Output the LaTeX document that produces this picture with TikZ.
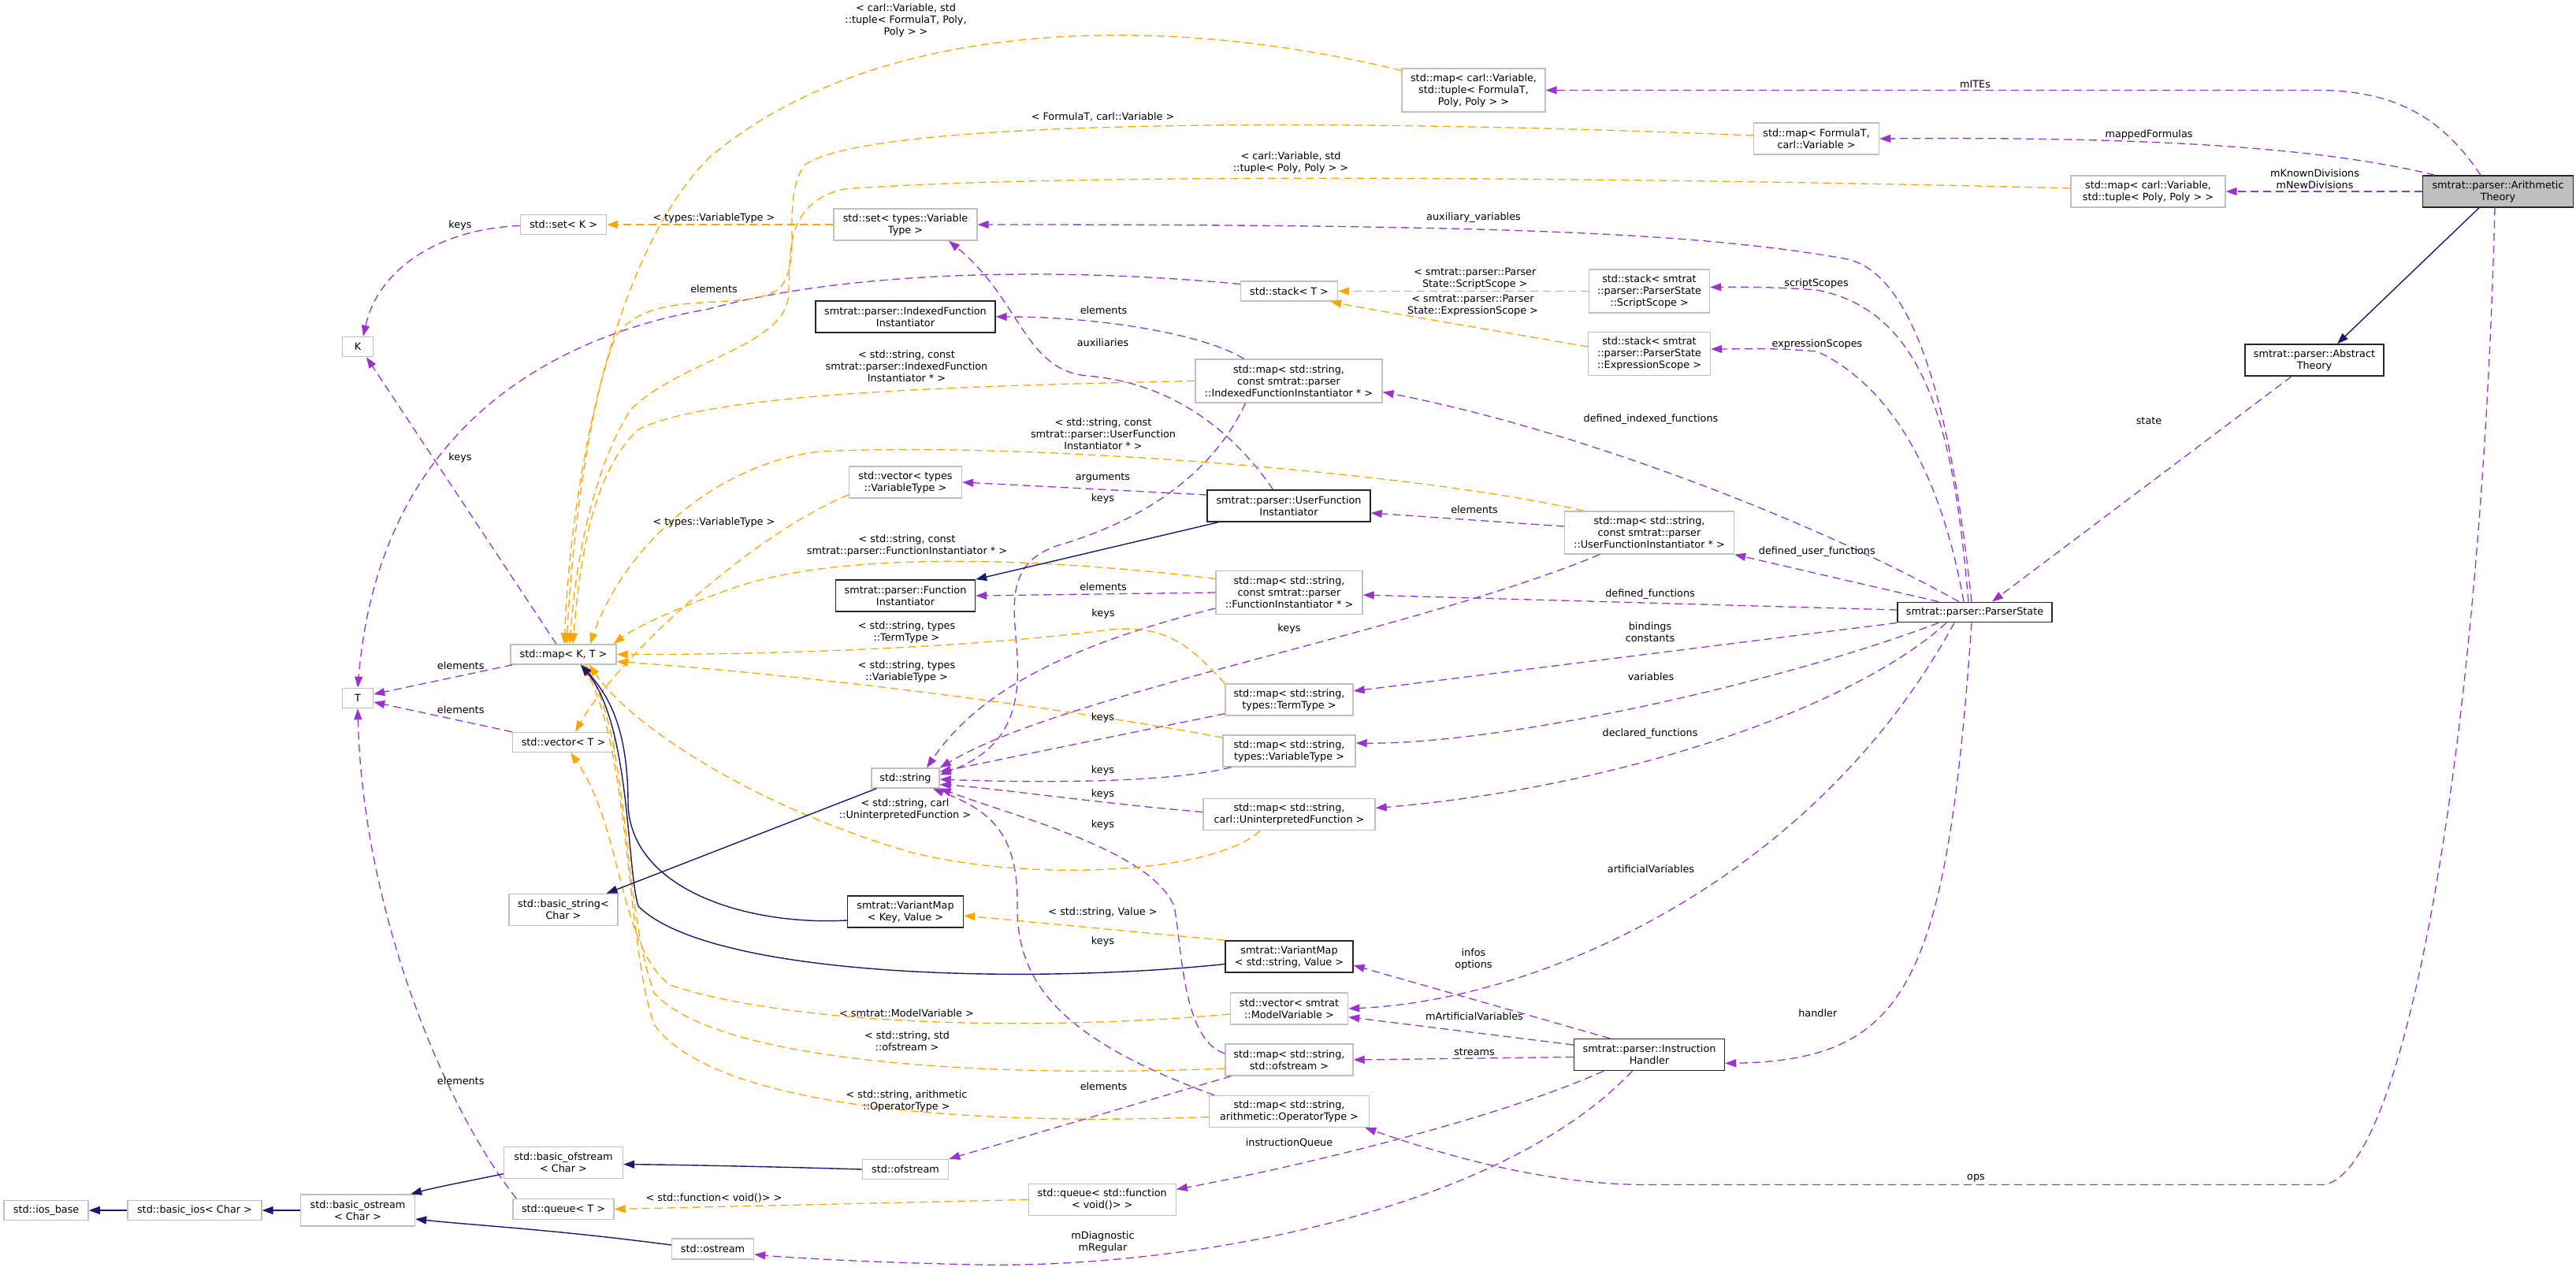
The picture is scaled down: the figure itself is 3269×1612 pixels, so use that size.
\documentclass[tikz,border=0pt]{standalone}
\usepackage{fontspec}
\setmainfont{DejaVu Sans}
\usetikzlibrary{arrows.meta}
\definecolor{dorchid}{HTML}{9A32CD}
\definecolor{orangeC}{HTML}{FFA500}
\definecolor{navyC}{HTML}{191970}
\definecolor{grayB}{HTML}{BFBFBF}
\newcommand\dxfont{\fontsize{12.8}{15}\selectfont}
\tikzset{
  basebox/.style={draw, line width=1.4pt, fill=white, align=center, inner sep=0pt, font=\dxfont},
  gbox/.style={basebox, draw=grayB},
  bbox/.style={basebox, draw=black!85},
  use/.style={draw=dorchid, line width=1.3pt, dash pattern=on 10pt off 6pt, -{Triangle[length=14pt,width=10pt]}},
  tmpl/.style={draw=orangeC, line width=1.3pt, dash pattern=on 10pt off 6pt, -{Triangle[length=14pt,width=10pt]}},
  inh/.style={draw=navyC, line width=1.4pt, -{Triangle[length=14pt,width=10pt]}},
  lbl/.style={font=\dxfont, align=center, inner sep=0pt}
}
\begin{document}
\begin{tikzpicture}[x=1pt,y=-1pt]
\useasboundingbox (0,0) rectangle (3269,1612);
% ---------------- nodes ----------------
\node[bbox, fill=grayB, minimum width=191pt, minimum height=40pt] (arith) at (3170,243) {smtrat::parser::Arithmetic\\Theory};
\node[gbox, minimum width=182pt, minimum height=55pt] (mapCVtF) at (1870,114.5) {std::map< carl::Variable,\\ std::tuple< FormulaT,\\ Poly, Poly > >};
\node[gbox, minimum width=159pt, minimum height=40pt] (mapFC) at (2305,176) {std::map< FormulaT,\\ carl::Variable >};
\node[gbox, minimum width=196pt, minimum height=40pt] (mapCVtP) at (2726,243) {std::map< carl::Variable,\\ std::tuple< Poly, Poly > >};
\node[bbox, minimum width=176pt, minimum height=40pt] (abstract) at (2937,457) {smtrat::parser::Abstract\\Theory};
\node[bbox, minimum width=196pt, minimum height=25.5pt] (parser) at (2506,777) {smtrat::parser::ParserState};
\node[gbox, minimum width=182pt, minimum height=40pt] (setVT) at (1149,285) {std::set< types::Variable\\Type >};
\node[gbox, minimum width=109pt, minimum height=25pt] (setK) at (715,285) {std::set< K >};
\node[gbox, minimum width=39pt, minimum height=25pt] (K) at (454,440) {K};
\node[gbox, minimum width=123pt, minimum height=25pt] (stackT) at (1636,369.5) {std::stack< T >};
\node[gbox, minimum width=153pt, minimum height=55pt] (stackSS) at (2093,369.5) {std::stack< smtrat\\::parser::ParserState\\::ScriptScope >};
\node[gbox, minimum width=155pt, minimum height=55pt] (stackES) at (2093,449) {std::stack< smtrat\\::parser::ParserState\\::ExpressionScope >};
\node[bbox, minimum width=228pt, minimum height=40pt] (idxInst) at (1149,402) {smtrat::parser::IndexedFunction\\Instantiator};
\node[gbox, minimum width=237pt, minimum height=55pt] (mapIdx) at (1635.5,483.5) {std::map< std::string,\\ const smtrat::parser\\::IndexedFunctionInstantiator * >};
\node[gbox, minimum width=143pt, minimum height=40pt] (vecVT) at (1149,612) {std::vector< types\\::VariableType >};
\node[bbox, minimum width=207pt, minimum height=40pt] (userInst) at (1635.5,642) {smtrat::parser::UserFunction\\Instantiator};
\node[gbox, minimum width=215pt, minimum height=54pt] (mapUser) at (2093,676) {std::map< std::string,\\ const smtrat::parser\\::UserFunctionInstantiator * >};
\node[bbox, minimum width=177pt, minimum height=40pt] (funcInst) at (1149,756) {smtrat::parser::Function\\Instantiator};
\node[gbox, minimum width=186pt, minimum height=55pt] (mapFunc) at (1636,752) {std::map< std::string,\\ const smtrat::parser\\::FunctionInstantiator * >};
\node[gbox, minimum width=134pt, minimum height=25pt] (mapKT) at (715,830.5) {std::map< K, T >};
\node[gbox, minimum width=39pt, minimum height=25pt] (T) at (454,886) {T};
\node[gbox, minimum width=162pt, minimum height=40pt] (mapTerm) at (1636,888) {std::map< std::string,\\ types::TermType >};
\node[gbox, minimum width=129pt, minimum height=25pt] (vecT) at (715,942) {std::vector< T >};
\node[gbox, minimum width=168pt, minimum height=40pt] (mapVar) at (1636,953) {std::map< std::string,\\ types::VariableType >};
\node[gbox, minimum width=86pt, minimum height=25pt] (str) at (1149,987.5) {std::string};
\node[gbox, minimum width=218pt, minimum height=40pt] (mapUnint) at (1636,1033.5) {std::map< std::string,\\ carl::UninterpretedFunction >};
\node[gbox, minimum width=138pt, minimum height=40pt] (basicStr) at (715,1154.5) {std::basic\_string<\\ Char >};
\node[bbox, minimum width=147pt, minimum height=40pt] (vmKV) at (1149,1157) {smtrat::VariantMap\\< Key, Value >};
\node[bbox, minimum width=162pt, minimum height=40pt] (vmSV) at (1636,1214) {smtrat::VariantMap\\< std::string, Value >};
\node[gbox, minimum width=149pt, minimum height=40pt] (vecMV) at (1636,1280) {std::vector< smtrat\\::ModelVariable >};
\node[gbox, minimum width=162pt, minimum height=40pt] (mapOfs) at (1636,1345) {std::map< std::string,\\ std::ofstream >};
\node[bbox, minimum width=191pt, minimum height=40pt] (handler) at (2093,1338.5) {smtrat::parser::Instruction\\Handler};
\node[gbox, minimum width=203pt, minimum height=40pt] (mapOp) at (1636,1410.5) {std::map< std::string,\\ arithmetic::OperatorType >};
\node[gbox, minimum width=109pt, minimum height=25pt] (ofstream) at (1149,1484) {std::ofstream};
\node[gbox, minimum width=151pt, minimum height=40pt] (basicOfs) at (715,1475.6) {std::basic\_ofstream\\< Char >};
\node[gbox, minimum width=187pt, minimum height=40pt] (queueF) at (1398.7,1522.4) {std::queue< std::function\\< void()> >};
\node[gbox, minimum width=128pt, minimum height=25.5pt] (queueT) at (715,1534.5) {std::queue< T >};
\node[gbox, minimum width=145pt, minimum height=40pt] (basicOs) at (454,1536) {std::basic\_ostream\\< Char >};
\node[gbox, minimum width=170pt, minimum height=25.5pt] (basicIos) at (247,1536) {std::basic\_ios< Char >};
\node[gbox, minimum width=107pt, minimum height=25.5pt] (iosBase) at (58.6,1536) {std::ios\_base};
\node[gbox, minimum width=104pt, minimum height=25.7pt] (ostream) at (904.5,1585) {std::ostream};
% ---------------- usage edges (purple) ----------------
\draw[use] ([xshift=-22pt]arith.north) .. controls (3100,150) and (3040,114.5) .. (2940,114.5) -- (mapCVtF.east);
\draw[use] ([xshift=16pt]arith.north west) .. controls (2920,180) and (2650,174) .. (mapFC.east);
\draw[use] (arith.west) -- (mapCVtP.east);
\draw[use] ([xshift=-4pt]arith.south) .. controls (3150,900) and (3060,1480) .. (2950,1503.5) -- (2090,1503.5) .. controls (1960,1503.5) and (1830,1465) .. ([xshift=-6pt]mapOp.south east);
\draw[use] ([xshift=-29pt]abstract.south) -- ([xshift=22pt]parser.north);
\draw[use] ([xshift=-4pt]parser.north) .. controls (2480,560) and (2440,345) .. (2340,328) .. controls (2150,295) and (1900,285) .. (setVT.east);
\draw[use] ([xshift=-8pt]parser.north) .. controls (2480,560) and (2450,395) .. (2305,368) .. controls (2250,364) and (2210,364) .. ([yshift=5pt]stackSS.east);
\draw[use] ([xshift=-14pt]parser.north) .. controls (2470,640) and (2420,500) .. (2306,446) .. controls (2250,441) and (2210,443) .. ([yshift=6pt]stackES.east);
\draw[use] ([xshift=-20pt]parser.north) .. controls (2300,660) and (2000,545) .. ([yshift=-14pt]mapIdx.east);
\draw[use] ([xshift=-46pt]parser.north) -- (mapUser.south east);
\draw[use] ([yshift=3pt]parser.west) -- ([yshift=-3pt]mapFunc.east);
\draw[use] (parser.south west) -- ([yshift=11pt]mapTerm.east);
\draw[use] ([xshift=-46pt]parser.south) .. controls (2250,870) and (1900,945) .. ([yshift=10pt]mapVar.east);
\draw[use] ([xshift=-36pt]parser.south) .. controls (2350,900) and (2050,1000) .. ([yshift=8pt]mapUnint.east);
\draw[use] ([xshift=-26pt]parser.south) .. controls (2300,1120) and (1950,1270) .. (vecMV.east);
\draw[use] ([xshift=-4pt]parser.south) .. controls (2470,1250) and (2420,1345) .. ([yshift=-11pt]handler.east);
\draw[use] ([xshift=-50pt]handler.north) -- ([yshift=-11pt]vmSV.east);
\draw[use] ([yshift=12.5pt]handler.west) -- ([yshift=-10.7pt]vecMV.east);
\draw[use] ([yshift=-3pt]handler.west) -- (mapOfs.east);
\draw[use] ([xshift=-58pt]handler.south) .. controls (1900,1420) and (1650,1480) .. ([yshift=13pt]queueF.east);
\draw[use] ([xshift=-21.5pt]handler.south) .. controls (1900,1540) and (1500,1610) .. (1240,1605) .. controls (1100,1602) and (1000,1596) .. ([yshift=-7pt]ostream.east);
\draw[use] ([xshift=8pt]mapOfs.south west) -- (ofstream.north east);
\draw[use] ([yshift=8pt]mapOfs.west) .. controls (1500,1320) and (1500,1200) .. (1490,1150) .. controls (1460,1080) and (1300,1040) .. (str.south east);
\draw[use] ([xshift=7pt]mapOp.north west) .. controls (1350,1320) and (1290,1250) .. (1291,1150) .. controls (1292,1060) and (1260,1030) .. ([xshift=-9pt]str.south east);
\draw[use] ([yshift=3pt]mapUnint.west) .. controls (1400,1020) and (1260,1000) .. ([yshift=-8pt]str.east);
\draw[use] ([xshift=11pt]mapVar.south west) .. controls (1480,995) and (1300,993) .. ([yshift=-1.5pt]str.east);
\draw[use] ([yshift=3pt]mapTerm.south west) -- ([yshift=8pt]str.east);
\draw[use] ([yshift=-20pt]mapFunc.west) .. controls (1350,820) and (1240,880) .. ([xshift=27pt]str.north);
\draw[use] ([xshift=-63pt]mapUser.south) .. controls (1800,800) and (1350,880) .. (str.north east);
\draw[use] ([xshift=-55pt]mapIdx.south) .. controls (1530,620) and (1420,670) .. (1340,693) .. controls (1280,715) and (1285,760) .. (1290,820) .. controls (1297,900) and (1280,950) .. ([yshift=4pt]str.east);
\draw[use] ([xshift=-20pt]userInst.north) .. controls (1560,540) and (1480,485) .. (1380,477) .. controls (1300,470) and (1295,380) .. ([xshift=55pt]setVT.south);
\draw[use] ([xshift=-57pt]mapIdx.north) .. controls (1530,425) and (1400,402) .. (idxInst.east);
\draw[use] ([yshift=14pt]userInst.west) -- (vecVT.east);
\draw[use] ([yshift=8pt]mapUser.west) -- ([yshift=-9pt]userInst.east);
\draw[use] (mapFunc.west) -- (funcInst.east);
\draw[use] ([yshift=9pt]stackT.west) .. controls (1300,335) and (1050,350) .. (900,392) .. controls (680,430) and (480,560) .. (T.north);
\draw[use] ([yshift=-1.5pt]setK.west) .. controls (560,290) and (480,340) .. ([xshift=7pt]K.north);
\draw[use] ([xshift=-9pt]mapKT.north) -- ([xshift=11pt]K.south);
\draw[use] ([xshift=3pt]mapKT.south west) -- ([yshift=5pt]T.east);
\draw[use] (vecT.north west) -- ([yshift=-5pt]T.east);
\draw[use] ([xshift=5pt]queueT.north west) .. controls (560,1400) and (460,1150) .. (T.south);
% ---------------- template edges (orange) ----------------
\draw[tmpl] (setVT.west) -- (setK.east);
\draw[tmpl] (stackSS.west) -- (stackT.east);
\draw[tmpl] ([yshift=9pt]stackES.west) .. controls (1900,420) and (1750,395) .. ([xshift=-10pt]stackT.south east);
\draw[tmpl] (vmSV.north west) -- ([yshift=-5pt]vmKV.east);
\draw[tmpl] (queueF.west) -- (queueT.east);
\draw[tmpl] ([yshift=-16pt]vecVT.west) .. controls (950,680) and (780,840) .. ([xshift=15pt]vecT.north);
\draw[tmpl] ([yshift=-7pt]vecMV.west) .. controls (1300,1310) and (1000,1300) .. (850,1250) .. controls (785,1200) and (790,1050) .. ([xshift=9pt]vecT.south);
\draw[tmpl] ([yshift=25pt]mapCVtF.west) .. controls (1450,10) and (1100,30) .. (900,200) .. controls (780,320) and (725,600) .. ([xshift=1pt]mapKT.north);
\draw[tmpl] ([yshift=4pt]mapFC.west) .. controls (1700,150) and (1100,150) .. (1020,210) .. controls (990,260) and (1020,330) .. (990,365) .. controls (950,400) and (820,360) .. (780,430) .. controls (745,520) and (725,700) .. ([xshift=4pt]mapKT.north);
\draw[tmpl] ([yshift=4pt]mapCVtP.west) .. controls (2300,230) and (1400,215) .. (1070,240) .. controls (990,260) and (1005,330) .. (1000,380) .. controls (990,440) and (860,460) .. (800,520) .. controls (750,600) and (730,720) .. ([xshift=8pt]mapKT.north);
\draw[tmpl] (mapIdx.west) .. controls (1200,490) and (900,500) .. (810,545) .. controls (750,600) and (735,720) .. ([xshift=12pt]mapKT.north);
\draw[tmpl] ([xshift=25pt]mapUser.north west) .. controls (1800,600) and (1300,560) .. (1040,573) .. controls (900,590) and (790,700) .. ([xshift=-34pt]mapKT.north east);
\draw[tmpl] ([yshift=17.5pt]mapFunc.west) .. controls (1300,705) and (1050,700) .. (920,750) .. controls (850,775) and (800,800) .. ([xshift=-4pt]mapKT.north east);
\draw[tmpl] (mapTerm.north west) .. controls (1510,820) and (1480,790) .. (1400,800) .. controls (1250,820) and (1000,831) .. (mapKT.east);
\draw[tmpl] ([yshift=17pt]mapVar.west) .. controls (1300,890) and (1000,855) .. ([yshift=-9pt]mapKT.east);
\draw[tmpl] ([xshift=-37pt]mapUnint.south) .. controls (1540,1110) and (1300,1120) .. (1150,1080) .. controls (950,1020) and (800,920) .. ([xshift=33pt]mapKT.south);
\draw[tmpl] ([yshift=-11pt]mapOfs.west) .. controls (1200,1370) and (900,1340) .. (830,1260) .. controls (790,1150) and (800,950) .. ([xshift=28pt]mapKT.south);
\draw[tmpl] ([yshift=-7pt]mapOp.west) .. controls (1200,1430) and (900,1400) .. (830,1300) .. controls (795,1200) and (800,960) .. ([xshift=25pt]mapKT.south);
% ---------------- inheritance edges (navy) ----------------
\draw[inh] ([xshift=-24pt]arith.south) -- ([xshift=29pt]abstract.north);
\draw[inh] ([xshift=15pt]userInst.south west) -- (funcInst.north east);
\draw[inh] ([xshift=7pt]str.south west) -- ([xshift=-15pt]basicStr.north east);
\draw[inh] ([yshift=-11pt]vmKV.west) .. controls (950,1175) and (800,1130) .. (797,1020) .. controls (797,920) and (770,880) .. ([xshift=22pt]mapKT.south);
\draw[inh] ([yshift=-9.5pt]vmSV.west) .. controls (1300,1250) and (900,1240) .. (810,1150) .. controls (795,1100) and (800,920) .. ([xshift=22pt]mapKT.south);
\draw[inh] (ofstream.west) .. controls (1000,1481) and (850,1478) .. ([yshift=-2pt]basicOfs.east);
\draw[inh] ([yshift=-14pt]basicOfs.west) .. controls (600,1498) and (560,1505) .. ([xshift=-6pt]basicOs.north east);
\draw[inh] ([yshift=5pt]ostream.west) .. controls (700,1560) and (600,1555) .. ([yshift=-11pt]basicOs.east);
\draw[inh] (basicOs.west) -- (basicIos.east);
\draw[inh] (basicIos.west) -- (iosBase.east);
% ---------------- labels ----------------
\node[lbl] (l1) at (2506.5,106.7) {mITEs};
\node[lbl] (l2) at (2727,170.5) {mappedFormulas};
\node[lbl] (l3) at (2937.5,227.3) {mKnownDivisions\\mNewDivisions};
\node[lbl] (l4) at (2507.5,1495.6) {ops};
\node[lbl] (l5) at (2727,534.4) {state};
\node[lbl] (l6) at (1870,276.5) {auxiliary\_variables};
\node[lbl] (l7) at (2305,360) {scriptScopes};
\node[lbl] (l8) at (2306,436.6) {expressionScopes};
\node[lbl] (l9) at (2095,532) {defined\_indexed\_functions};
\node[lbl] (l10) at (2305.8,700.5) {defined\_user\_functions};
\node[lbl] (l11) at (2094,754.5) {defined\_functions};
\node[lbl] (l12) at (2094,801.8) {bindings\\constants};
\node[lbl] (l13) at (2095,858.5) {variables};
\node[lbl] (l14) at (2094,931.5) {declared\_functions};
\node[lbl] (l15) at (2095,1102.3) {artificialVariables};
\node[lbl] (l16) at (2306.8,1286) {handler};
\node[lbl] (l17) at (1870,1217.7) {infos\\options};
\node[lbl] (l18) at (1871,1290) {mArtificialVariables};
\node[lbl] (l19) at (1871,1334.7) {streams};
\node[lbl] (l20) at (1636,1450.8) {instructionQueue};
\node[lbl] (l21) at (1399.5,1576) {mDiagnostic\\mRegular};
\node[lbl] (l22) at (1400.5,1378.5) {elements};
\node[lbl] (l23) at (1399.5,1195) {keys};
\node[lbl] (l24) at (1399.5,1047) {keys};
\node[lbl] (l25) at (1399.5,1007.6) {keys};
\node[lbl] (l26) at (1399.5,978) {keys};
\node[lbl] (l27) at (1399.5,911) {keys};
\node[lbl] (l28) at (1400,778.6) {keys};
\node[lbl] (l29) at (1636,798) {keys};
\node[lbl] (l30) at (1399.5,633) {keys};
\node[lbl] (l31) at (1399.5,434.6) {auxiliaries};
\node[lbl] (l32) at (1400.5,394) {elements};
\node[lbl] (l33) at (1399.5,606.5) {arguments};
\node[lbl] (l34) at (1871,646.7) {elements};
\node[lbl] (l35) at (1400,744.6) {elements};
\node[lbl] (l36) at (906,366.7) {elements};
\node[lbl] (l37) at (584,286) {keys};
\node[lbl] (l38) at (584,580.6) {keys};
\node[lbl] (l39) at (584.7,844.8) {elements};
\node[lbl] (l40) at (584.7,901) {elements};
\node[lbl] (l41) at (584.7,1371.6) {elements};
\node[lbl] (o1) at (906,276.5) {< types::VariableType >};
\node[lbl] (o2) at (1871.7,353.5) {< smtrat::parser::Parser\\State::ScriptScope >};
\node[lbl] (o3) at (1869,388) {< smtrat::parser::Parser\\State::ExpressionScope >};
\node[lbl] (o4) at (1399.5,1158) {< std::string, Value >};
\node[lbl] (o5) at (906,1520) {< std::function< void()> >};
\node[lbl] (o6) at (906,663) {< types::VariableType >};
\node[lbl] (o7) at (1150.5,1286) {< smtrat::ModelVariable >};
\node[lbl] (o8) at (1149.5,26) {< carl::Variable, std\\::tuple< FormulaT, Poly,\\Poly > >};
\node[lbl] (o9) at (1399.5,148) {< FormulaT, carl::Variable >};
\node[lbl] (o10) at (1638,206.5) {< carl::Variable, std\\::tuple< Poly, Poly > >};
\node[lbl] (o11) at (1150.5,465) {< std::string, const\\smtrat::parser::IndexedFunction\\Instantiator * >};
\node[lbl] (o12) at (1400,551) {< std::string, const\\smtrat::parser::UserFunction\\Instantiator * >};
\node[lbl] (o13) at (1151,692) {< std::string, const\\smtrat::parser::FunctionInstantiator * >};
\node[lbl] (o14) at (1150.5,802) {< std::string, types\\::TermType >};
\node[lbl] (o15) at (1150.5,852) {< std::string, types\\::VariableType >};
\node[lbl] (o16) at (1148.5,1027) {< std::string, carl\\::UninterpretedFunction >};
\node[lbl] (o17) at (1151,1321.5) {< std::string, std\\::ofstream >};
\node[lbl] (o18) at (1150.5,1397.5) {< std::string, arithmetic\\::OperatorType >};
\end{tikzpicture}
\end{document}
